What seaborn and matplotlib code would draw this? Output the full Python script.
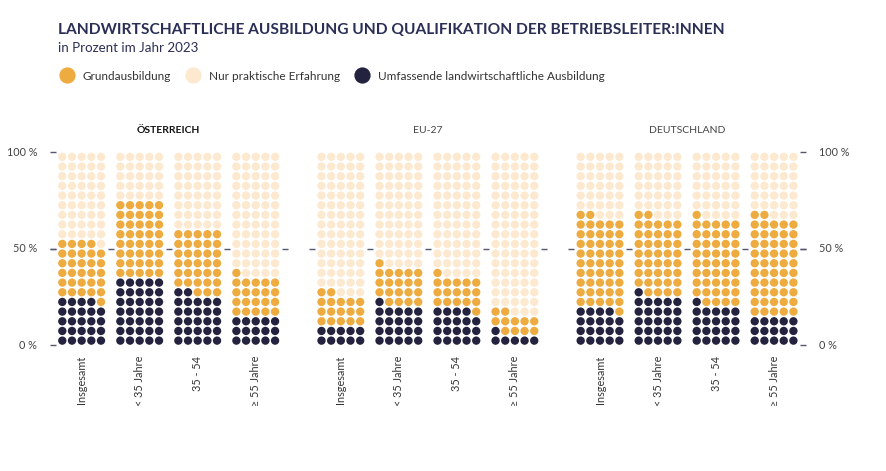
import pandas as pd
import matplotlib.pyplot as plt
import seaborn as sns

# Set seaborn style, then the font list (set_theme resets font.family)
sns.set_theme(style="white")
plt.rcParams['font.family'] = ['Lato', 'DejaVu Sans']

# --------------------------------------------
# Data (percent of farm managers, 2023)
# --------------------------------------------
regions = ["ÖSTERREICH", "EU-27", "DEUTSCHLAND"]
groups = ["Insgesamt", "< 35 Jahre", "35 - 54", "≥ 55 Jahre"]
categories = ["Grundausbildung", "Nur praktische Erfahrung",
              "Umfassende landwirtschaftliche Ausbildung"]

umfassend = {"ÖSTERREICH": [24, 35, 27, 15],
             "EU-27": [10, 21, 19, 6],
             "DEUTSCHLAND": [19, 26, 21, 15]}
grund = {"ÖSTERREICH": [30, 40, 33, 21],
         "EU-27": [17, 20, 17, 11],
         "DEUTSCHLAND": [48, 41, 45, 52]}
praktisch = {"ÖSTERREICH": [46, 25, 40, 64],
             "EU-27": [73, 59, 64, 83],
             "DEUTSCHLAND": [33, 33, 34, 33]}

colors = {"Grundausbildung": "#eeab3f",
          "Nur praktische Erfahrung": "#fde9cf",
          "Umfassende landwirtschaftliche Ausbildung": "#23223f"}

# waffle layout: 5 dots per row, 20 rows, filled from the bottom
COLS = 5
PANEL_STEP = 26.8
GROUP_STEP = 6

rows = []
for p, region in enumerate(regions):
    for g, group in enumerate(groups):
        counts = [(categories[2], umfassend[region][g]),
                  (categories[0], grund[region][g]),
                  (categories[1], praktisch[region][g])]
        k = 0
        for cat, n in counts:
            for _ in range(n):
                rows.append({"region": region, "group": group, "Kategorie": cat,
                             "x": p * PANEL_STEP + g * GROUP_STEP + k % COLS,
                             "y": k // COLS + 0.5})
                k += 1
df = pd.DataFrame(rows)

# --------------------------------------------
# Plot
# --------------------------------------------
fig = plt.figure(figsize=(8.86, 4.71), dpi=100)
ax = fig.add_axes([0.0485, 0.246, 0.8732, 0.4518])

sns.scatterplot(data=df, x="x", y="y", hue="Kategorie", hue_order=categories,
                palette=colors, s=36, linewidth=0, ax=ax)

ax.set_xlim(-2, 78)
ax.set_ylim(-1, 21)
ax.axis("off")

tick_color = "#55576e"
text_color = "#333333"
navy = "#2b2f55"

# small tick dashes at 50 % left of each waffle and after the last one
for p, region in enumerate(regions):
    base = p * PANEL_STEP
    for xd in [-1, 5, 11, 17, 23]:
        ax.hlines(10, base + xd - 0.3, base + xd + 0.3, color=tick_color, lw=1)
    # panel title
    ax.text(base + 11, 22.2, region, ha="center", va="center",
            fontsize=7.5, fontweight="bold" if p == 0 else "normal",
            color="#111111" if p == 0 else "#444444")
    # group labels under each waffle
    for g, group in enumerate(groups):
        ax.text(base + g * GROUP_STEP + 2, -1.1, group, rotation=90,
                ha="center", va="top", fontsize=7.8, color=text_color,
                clip_on=False)

# outer axes: 0 / 50 / 100 %
right = 2 * PANEL_STEP + 23
for yv, lab in [(0, "0 %"), (10, "50 %"), (20, "100 %")]:
    ax.hlines(yv, -1.3, -0.7, color=tick_color, lw=1)
    ax.hlines(yv, right - 0.3, right + 0.3, color=tick_color, lw=1)
    ax.text(-2.6, yv, lab, ha="right", va="center", fontsize=7.8,
            color="#444444", clip_on=False)
    ax.text(right + 1.6, yv, lab, ha="left", va="center", fontsize=7.8,
            color="#444444", clip_on=False)

# title / subtitle
fig.text(58 / 886, 1 - 34.5 / 471,
         "LANDWIRTSCHAFTLICHE AUSBILDUNG UND QUALIFIKATION DER BETRIEBSLEITER:INNEN",
         fontsize=11.2, fontweight="bold", color=navy, va="baseline")
fig.text(58 / 886, 1 - 52.5 / 471, "in Prozent im Jahr 2023",
         fontsize=9.6, color=navy, va="baseline")

# legend in one row under the subtitle
sns.move_legend(ax, "center left", bbox_to_anchor=(58.2 / 886, 1 - 76 / 471),
                bbox_transform=fig.transFigure, ncol=3, frameon=False,
                title=None, fontsize=8.5, handlelength=1.5, handletextpad=0.6,
                columnspacing=1.1, borderpad=0, borderaxespad=0,
                markerscale=1.95)
for t in ax.get_legend().get_texts():
    t.set_color(text_color)

fig.savefig("out.png", dpi=100, facecolor="white")
